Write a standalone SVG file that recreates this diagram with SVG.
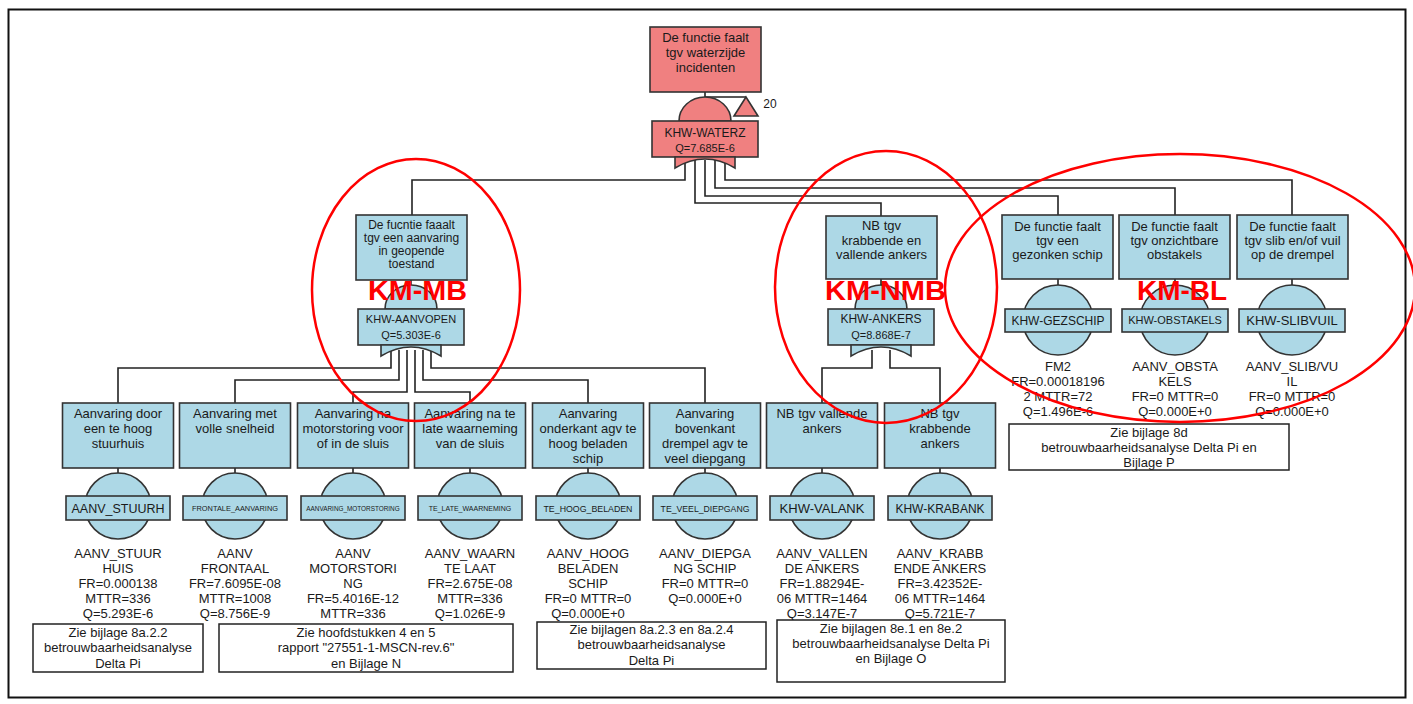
<svg xmlns="http://www.w3.org/2000/svg" xmlns:xlink="http://www.w3.org/1999/xlink" width="1413" height="704" viewBox="0 0 1413 704">
  <style>
    .t { font-family: "Liberation Sans", Arial, sans-serif; fill: #1a1a1a; text-anchor: middle; }
    .box { fill: #ADD8E6; stroke: #333; stroke-width: 1.6; }
    .topbox { fill: #F08080; stroke: #333; stroke-width: 1.6; }
    .note { fill: #fff; stroke: #222; stroke-width: 1.5; }
    .wire { fill: none; stroke: #222; stroke-width: 1.6; }
    .ring { fill: none; stroke: #FF0000; stroke-width: 2.5; }
    .km { font-family: "Liberation Sans", Arial, sans-serif; font-weight: bold; fill: #FF0000; text-anchor: middle; }
  </style>
  <defs>
    <!-- OR gate: dome, label plate and concave input side; origin = top-centre of label plate -->
    <g id="or-gate" stroke="#333" stroke-width="1.6">
      <path d="M-26,0 A26,24 0 0 1 26,0 Z"/>
      <rect x="-53" y="0" width="106" height="36"/>
      <path d="M-30,36 V47 Q0,29 30,47 V36 Z"/>
    </g>
  </defs>

  <rect x="8.5" y="9.5" width="1397" height="688" fill="#fff" stroke="#111" stroke-width="2"/>

  <!-- connectors -->
  <g id="connectors" class="wire">
    <path d="M705,92 V97 H746"/>
    <path d="M685,160 V180 H412 V215"/>
    <path d="M695,160 V203 H881 V216"/>
    <path d="M705,160 V196 H1058 V215"/>
    <path d="M715,160 V188 H1175 V215"/>
    <path d="M725,160 V180 H1292 V215"/>
    <path d="M411,280 V287"/>
    <path d="M881,279 V287"/>
    <path d="M1058,279 V287"/>
    <path d="M1175,279 V287"/>
    <path d="M1292,279 V287"/>
    <path d="M391,350 V368 H118 V403"/>
    <path d="M399,350 V380 H235 V403"/>
    <path d="M407,350 V392 H353 V403"/>
    <path d="M415,350 V392 H470 V403"/>
    <path d="M423,350 V380 H588 V403"/>
    <path d="M431,350 V368 H705 V403"/>
    <path d="M872,350 V368 H822 V403"/>
    <path d="M890,350 V368 H940 V403"/>
    <path d="M118,468 V474 M235,468 V474 M353,468 V474 M470,468 V474 M588,468 V474 M705,468 V474 M822,468 V474 M940,468 V474"/>
  </g>

  <!-- top event -->
  <g id="khw-waterz">
    <rect class="topbox" x="650" y="27" width="111" height="65"/>
    <text class="t" font-size="13"><tspan x="705.5" y="42">De functie faalt</tspan><tspan x="705.5" y="57">tgv waterzijde</tspan><tspan x="705.5" y="72">incidenten</tspan></text>
    <use xlink:href="#or-gate" x="705" y="121" fill="#F08080"/>
    <text class="t" font-size="12" x="705" y="136.5">KHW-WATERZ</text>
    <text class="t" font-size="11" x="705" y="152">Q=7.685E-6</text>
    <polygon points="746,97 734,116 758,116" fill="#F08080" stroke="#333" stroke-width="1.6"/>
    <text class="t" font-size="12" x="770" y="108">20</text>
  </g>

  <!-- intermediate gates -->
  <g id="khw-aanvopen">
    <rect class="box" x="356" y="215" width="111" height="65"/>
    <text class="t" font-size="12"><tspan x="411.5" y="229">De fucntie faaalt</tspan><tspan x="411.5" y="242">tgv een aanvaring</tspan><tspan x="411.5" y="255">in geopende</tspan><tspan x="411.5" y="268">toestand</tspan></text>
    <use xlink:href="#or-gate" x="411" y="309" fill="#ADD8E6"/>
    <text class="t" font-size="11" x="411" y="323">KHW-AANVOPEN</text>
    <text class="t" font-size="11" x="411" y="339">Q=5.303E-6</text>
  </g>

  <g id="khw-ankers">
    <rect class="box" x="826" y="216" width="111" height="63"/>
    <text class="t" font-size="13"><tspan x="881.5" y="230">NB tgv</tspan><tspan x="881.5" y="244.5">krabbende en</tspan><tspan x="881.5" y="259">vallende ankers</tspan></text>
    <use xlink:href="#or-gate" x="881" y="309" fill="#ADD8E6"/>
    <text class="t" font-size="12" x="881" y="322.5">KHW-ANKERS</text>
    <text class="t" font-size="11" x="881" y="339">Q=8.868E-7</text>
  </g>

  <!-- basic events under the top gate -->
  <g id="khw-gezschip">
    <rect class="box" x="1002" y="215" width="111" height="64"/>
    <text class="t" font-size="13"><tspan x="1057.5" y="231">De functie faalt</tspan><tspan x="1057.5" y="245">tgv een</tspan><tspan x="1057.5" y="259">gezonken schip</tspan></text>
    <circle class="box" cx="1058" cy="320" r="35"/>
    <rect class="box" x="1005" y="309" width="106" height="23"/>
    <text class="t" font-size="12" x="1058" y="324.5">KHW-GEZSCHIP</text>
    <text class="t" font-size="13"><tspan x="1058" y="371">FM2</tspan><tspan x="1058" y="386">FR=0.00018196</tspan><tspan x="1058" y="401">2 MTTR=72</tspan><tspan x="1058" y="416">Q=1.496E-6</tspan></text>
  </g>

  <g id="khw-obstakels">
    <rect class="box" x="1119" y="215" width="111" height="64"/>
    <text class="t" font-size="13"><tspan x="1174.5" y="231">De functie faalt</tspan><tspan x="1174.5" y="245">tgv onzichtbare</tspan><tspan x="1174.5" y="259">obstakels</tspan></text>
    <circle class="box" cx="1175" cy="320" r="35"/>
    <rect class="box" x="1122" y="309" width="106" height="23"/>
    <text class="t" font-size="11" x="1175" y="324">KHW-OBSTAKELS</text>
    <text class="t" font-size="13"><tspan x="1175" y="371">AANV_OBSTA</tspan><tspan x="1175" y="386">KELS</tspan><tspan x="1175" y="401">FR=0 MTTR=0</tspan><tspan x="1175" y="416">Q=0.000E+0</tspan></text>
  </g>

  <g id="khw-slibvuil">
    <rect class="box" x="1237" y="215" width="111" height="64"/>
    <text class="t" font-size="13"><tspan x="1292.5" y="231">De functie faalt</tspan><tspan x="1292.5" y="245">tgv slib en/of vuil</tspan><tspan x="1292.5" y="259">op de drempel</tspan></text>
    <circle class="box" cx="1292" cy="320" r="35"/>
    <rect class="box" x="1239" y="309" width="106" height="23"/>
    <text class="t" font-size="13" x="1292" y="325">KHW-SLIBVUIL</text>
    <text class="t" font-size="13"><tspan x="1292" y="371">AANV_SLIB/VU</tspan><tspan x="1292" y="386">IL</tspan><tspan x="1292" y="401">FR=0 MTTR=0</tspan><tspan x="1292" y="416">Q=0.000E+0</tspan></text>
  </g>

  <!-- basic events, bottom row -->
  <g id="aanv-stuurh">
    <rect class="box" x="62.5" y="403" width="111" height="65"/>
    <text class="t" font-size="13"><tspan x="118" y="418">Aanvaring door</tspan><tspan x="118" y="433">een te hoog</tspan><tspan x="118" y="448">stuurhuis</tspan></text>
    <circle class="box" cx="118" cy="506" r="33"/>
    <rect class="box" x="66" y="496" width="104" height="24"/>
    <text class="t" font-size="12.5" x="118" y="512.5">AANV_STUURH</text>
    <text class="t" font-size="13"><tspan x="118" y="558">AANV_STUUR</tspan><tspan x="118" y="573">HUIS</tspan><tspan x="118" y="588">FR=0.000138</tspan><tspan x="118" y="603">MTTR=336</tspan><tspan x="118" y="618">Q=5.293E-6</tspan></text>
  </g>

  <g id="frontale-aanvaring">
    <rect class="box" x="179.5" y="403" width="111" height="65"/>
    <text class="t" font-size="13"><tspan x="235" y="418">Aanvaring met</tspan><tspan x="235" y="433">volle snelheid</tspan></text>
    <circle class="box" cx="235" cy="506" r="33"/>
    <rect class="box" x="183" y="496" width="104" height="24"/>
    <text class="t" font-size="7.4" x="235" y="510.5">FRONTALE_AANVARING</text>
    <text class="t" font-size="13"><tspan x="235" y="558">AANV</tspan><tspan x="235" y="573">FRONTAAL</tspan><tspan x="235" y="588">FR=7.6095E-08</tspan><tspan x="235" y="603">MTTR=1008</tspan><tspan x="235" y="618">Q=8.756E-9</tspan></text>
  </g>

  <g id="aanvaring-motorstoring">
    <rect class="box" x="297.5" y="403" width="111" height="65"/>
    <text class="t" font-size="13"><tspan x="353" y="418">Aanvaring na</tspan><tspan x="353" y="433">motorstoring voor</tspan><tspan x="353" y="448">of in de sluis</tspan></text>
    <circle class="box" cx="353" cy="506" r="33"/>
    <rect class="box" x="301" y="496" width="104" height="24"/>
    <text class="t" font-size="6.4" x="353" y="510.5">AANVARING_MOTORSTORING</text>
    <text class="t" font-size="13"><tspan x="353" y="558">AANV</tspan><tspan x="353" y="573">MOTORSTORI</tspan><tspan x="353" y="588">NG</tspan><tspan x="353" y="603">FR=5.4016E-12</tspan><tspan x="353" y="618">MTTR=336</tspan></text>
  </g>

  <g id="te-late-waarneming">
    <rect class="box" x="414.5" y="403" width="111" height="65"/>
    <text class="t" font-size="13"><tspan x="470" y="418">Aanvaring na te</tspan><tspan x="470" y="433">late waarneming</tspan><tspan x="470" y="448">van de sluis</tspan></text>
    <circle class="box" cx="470" cy="506" r="33"/>
    <rect class="box" x="418" y="496" width="104" height="24"/>
    <text class="t" font-size="7" x="470" y="510.5">TE_LATE_WAARNEMING</text>
    <text class="t" font-size="13"><tspan x="470" y="558">AANV_WAARN</tspan><tspan x="470" y="573">TE LAAT</tspan><tspan x="470" y="588">FR=2.675E-08</tspan><tspan x="470" y="603">MTTR=336</tspan><tspan x="470" y="618">Q=1.026E-9</tspan></text>
  </g>

  <g id="te-hoog-beladen">
    <rect class="box" x="532.5" y="403" width="111" height="65"/>
    <text class="t" font-size="13"><tspan x="588" y="418">Aanvaring</tspan><tspan x="588" y="433">onderkant agv te</tspan><tspan x="588" y="448">hoog beladen</tspan><tspan x="588" y="463">schip</tspan></text>
    <circle class="box" cx="588" cy="506" r="33"/>
    <rect class="box" x="536" y="496" width="104" height="24"/>
    <text class="t" font-size="8.8" x="588" y="511.5">TE_HOOG_BELADEN</text>
    <text class="t" font-size="13"><tspan x="588" y="558">AANV_HOOG</tspan><tspan x="588" y="573">BELADEN</tspan><tspan x="588" y="588">SCHIP</tspan><tspan x="588" y="603">FR=0 MTTR=0</tspan><tspan x="588" y="618">Q=0.000E+0</tspan></text>
  </g>

  <g id="te-veel-diepgang">
    <rect class="box" x="649.5" y="403" width="111" height="65"/>
    <text class="t" font-size="13"><tspan x="705" y="418">Aanvaring</tspan><tspan x="705" y="433">bovenkant</tspan><tspan x="705" y="448">drempel agv te</tspan><tspan x="705" y="463">veel diepgang</tspan></text>
    <circle class="box" cx="705" cy="506" r="33"/>
    <rect class="box" x="653" y="496" width="104" height="24"/>
    <text class="t" font-size="8.7" x="705" y="511.5">TE_VEEL_DIEPGANG</text>
    <text class="t" font-size="13"><tspan x="705" y="558">AANV_DIEPGA</tspan><tspan x="705" y="573">NG SCHIP</tspan><tspan x="705" y="588">FR=0 MTTR=0</tspan><tspan x="705" y="603">Q=0.000E+0</tspan></text>
  </g>

  <g id="khw-valank">
    <rect class="box" x="766.5" y="403" width="111" height="65"/>
    <text class="t" font-size="13"><tspan x="822" y="418">NB tgv vallende</tspan><tspan x="822" y="433">ankers</tspan></text>
    <circle class="box" cx="822" cy="506" r="33"/>
    <rect class="box" x="770" y="496" width="104" height="24"/>
    <text class="t" font-size="13" x="822" y="512.5">KHW-VALANK</text>
    <text class="t" font-size="13"><tspan x="822" y="558">AANV_VALLEN</tspan><tspan x="822" y="573">DE ANKERS</tspan><tspan x="822" y="588">FR=1.88294E-</tspan><tspan x="822" y="603">06 MTTR=1464</tspan><tspan x="822" y="618">Q=3.147E-7</tspan></text>
  </g>

  <g id="khw-krabank">
    <rect class="box" x="884.5" y="403" width="111" height="65"/>
    <text class="t" font-size="13"><tspan x="940" y="418">NB tgv</tspan><tspan x="940" y="433">krabbende</tspan><tspan x="940" y="448">ankers</tspan></text>
    <circle class="box" cx="940" cy="506" r="33"/>
    <rect class="box" x="888" y="496" width="104" height="24"/>
    <text class="t" font-size="12" x="940" y="512.5">KHW-KRABANK</text>
    <text class="t" font-size="13"><tspan x="940" y="558">AANV_KRABB</tspan><tspan x="940" y="573">ENDE ANKERS</tspan><tspan x="940" y="588">FR=3.42352E-</tspan><tspan x="940" y="603">06 MTTR=1464</tspan><tspan x="940" y="618">Q=5.721E-7</tspan></text>
  </g>

  <!-- reference notes -->
  <g id="note-stuurhuis">
    <rect class="note" x="33" y="624" width="170" height="48"/>
    <text class="t" font-size="13"><tspan x="118" y="636.5">Zie bijlage 8a.2.2</tspan><tspan x="118" y="652">betrouwbaarheidsanalyse</tspan><tspan x="118" y="667.5">Delta Pi</tspan></text>
  </g>
  <g id="note-hoofdstukken">
    <rect class="note" x="219" y="624" width="294" height="48"/>
    <text class="t" font-size="13"><tspan x="366" y="636.5">Zie hoofdstukken 4 en 5</tspan><tspan x="366" y="652">rapport "27551-1-MSCN-rev.6"</tspan><tspan x="366" y="667.5">en Bijlage N</tspan></text>
  </g>
  <g id="note-bijlagen-8a">
    <rect class="note" x="537" y="622" width="229" height="47"/>
    <text class="t" font-size="13"><tspan x="651.5" y="633.5">Zie bijlagen 8a.2.3 en 8a.2.4</tspan><tspan x="651.5" y="649">betrouwbaarheidsanalyse</tspan><tspan x="651.5" y="664.5">Delta Pi</tspan></text>
  </g>
  <g id="note-bijlagen-8e">
    <rect class="note" x="777" y="620" width="228" height="62"/>
    <text class="t" font-size="13"><tspan x="891" y="632.5">Zie bijlagen 8e.1 en 8e.2</tspan><tspan x="891" y="647.5">betrouwbaarheidsanalyse Delta Pi</tspan><tspan x="891" y="662.5">en Bijlage O</tspan></text>
  </g>
  <g id="note-bijlage-8d">
    <rect class="note" x="1009" y="424" width="280" height="46"/>
    <text class="t" font-size="13"><tspan x="1149" y="436.5">Zie bijlage 8d</tspan><tspan x="1149" y="451.5">betrouwbaarheidsanalyse Delta Pi en</tspan><tspan x="1149" y="466.5">Bijlage P</tspan></text>
  </g>

  <!-- measure groupings -->
  <g id="measures">
    <ellipse class="ring" cx="416" cy="290" rx="104" ry="131"/>
    <ellipse class="ring" cx="886" cy="287" rx="111" ry="136"/>
    <ellipse class="ring" cx="1180" cy="288" rx="235" ry="134"/>
    <text class="km" font-size="27" x="417.5" y="300" textLength="99" lengthAdjust="spacingAndGlyphs">KM-MB</text>
    <text class="km" font-size="27" x="885.5" y="300" textLength="121" lengthAdjust="spacingAndGlyphs">KM-NMB</text>
    <text class="km" font-size="27" x="1182" y="300" textLength="90" lengthAdjust="spacingAndGlyphs">KM-BL</text>
  </g>
</svg>
